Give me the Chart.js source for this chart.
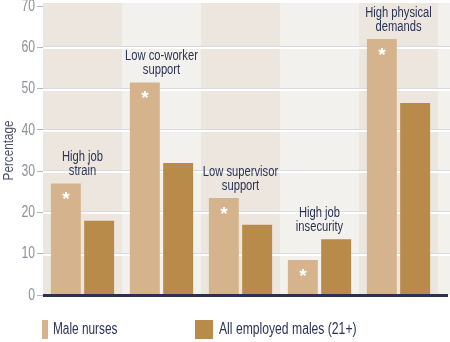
<!DOCTYPE html>
<html>
<head>
<meta charset="utf-8">
<script src="https://cdn.jsdelivr.net/npm/chart.js@4"></script>
<style>
  body { margin: 0; background: #ffffff; }
  #wrap { width: 450px; height: 342px; }
</style>
</head>
<body>
<div id="wrap"><canvas id="plot"></canvas></div>
<script>
// categorias (dos lineas cada una)
let categorias = [
  ['High job', 'strain'],
  ['Low co-worker', 'support'],
  ['Low supervisor', 'support'],
  ['High job', 'insecurity'],
  ['High physical', 'demands']
];
let enfermeros = [27, 51.5, 23.5, 8.5, 62];
let todosHombres = [18, 32, 17, 13.5, 46.5];
let marcados = [true, true, true, true, true];
let ticksY = [0, 10, 20, 30, 40, 50, 60, 70];
let tituloY = 'Percentage';

let fuente = "'Liberation Sans', Arial, sans-serif";
let colorClaro = '#d5b48d';
let colorOscuro = '#b88b4a';
let colorTexto = '#2b3356';

// texto angosto (imita una fuente condensada)
let textoAngosto = (ctx, texto, x, y, escala) => {
  ctx.save();
  ctx.translate(x, y);
  ctx.scale(escala, 1);
  ctx.fillText(texto, 0, 0);
  ctx.restore();
};

// fondo, franjas y lineas de cuadricula
let fondoPlugin = {
  id: 'fondo',
  beforeDraw(chart) {
    let ctx = chart.ctx;
    let area = chart.chartArea;
    let x = chart.scales.x;
    let y = chart.scales.y;
    let derecha = chart.width;
    ctx.save();
    ctx.fillStyle = '#f3f1ed';
    ctx.fillRect(area.left, area.top - 3, derecha - area.left, area.bottom - area.top + 3);
    let ancho = x.getPixelForValue(1) - x.getPixelForValue(0);
    ctx.fillStyle = '#ece6df';
    for (let i = 0; i < categorias.length; i += 2) {
      let cx = x.getPixelForValue(i);
      ctx.fillRect(cx - ancho / 2, area.top - 3, ancho, area.bottom - area.top + 3);
    }
    ticksY.forEach(v => {
      if (v === 0 || v === 70) return;
      let py = Math.round(y.getPixelForValue(v));
      ctx.fillStyle = '#d8dae0';
      ctx.fillRect(area.left, py - 1, derecha - area.left, 1);
      ctx.fillStyle = '#ffffff';
      ctx.fillRect(area.left, py, derecha - area.left, 2);
    });

    // etiquetas del eje y
    ctx.fillStyle = '#8d909a';
    ctx.font = '17px ' + fuente;
    ctx.textAlign = 'right';
    ctx.textBaseline = 'middle';
    ticksY.forEach(v => {
      textoAngosto(ctx, String(v), 35, y.getPixelForValue(v), 0.72);
    });
    // titulo del eje y
    ctx.save();
    ctx.translate(9, (area.top + area.bottom) / 2);
    ctx.rotate(-Math.PI / 2);
    ctx.scale(0.78, 1);
    ctx.fillStyle = '#4a4f66';
    ctx.font = '15px ' + fuente;
    ctx.textAlign = 'center';
    ctx.fillText(tituloY, 0, 0);
    ctx.restore();
    ctx.restore();
  },
  afterDatasetsDraw(chart) {
    let ctx = chart.ctx;
    let area = chart.chartArea;
    let x = chart.scales.x;
    ctx.save();
    // eje x
    ctx.fillStyle = '#2c3150';
    ctx.fillRect(area.left, area.bottom - 1, chart.width - 2 - area.left, 3);

    let meta0 = chart.getDatasetMeta(0);
    let meta1 = chart.getDatasetMeta(1);
    // asteriscos
    ctx.fillStyle = '#ffffff';
    ctx.font = 'bold 19px ' + fuente;
    ctx.textAlign = 'center';
    ctx.textBaseline = 'top';
    meta0.data.forEach((bar, i) => {
      if (marcados[i]) ctx.fillText('*', bar.x, bar.y + 7);
    });
    // etiquetas de categorias
    ctx.fillStyle = colorTexto;
    ctx.font = '14px ' + fuente;
    ctx.textBaseline = 'middle';
    categorias.forEach((lineas, i) => {
      let tope = Math.min(meta0.data[i].y, meta1.data[i].y);
      let cx = x.getPixelForValue(i);
      textoAngosto(ctx, lineas[0], cx, tope - 26, 0.8);
      textoAngosto(ctx, lineas[1], cx, tope - 12, 0.8);
    });

    // leyenda
    ctx.font = '16px ' + fuente;
    ctx.textAlign = 'left';
    ctx.fillStyle = chart.data.datasets[0].backgroundColor;
    ctx.fillRect(42, 320, 6, 19);
    ctx.fillStyle = colorTexto;
    textoAngosto(ctx, chart.data.datasets[0].label, 53, 330, 0.74);
    ctx.fillStyle = chart.data.datasets[1].backgroundColor;
    ctx.fillRect(195, 320, 18, 19);
    ctx.fillStyle = colorTexto;
    textoAngosto(ctx, chart.data.datasets[1].label, 219, 330, 0.76);
    ctx.restore();
  }
};

let config = {
  type: 'bar',
  data: {
    labels: categorias.map(c => c.join(' ')),
    datasets: [
      { label: 'Male nurses', data: enfermeros, backgroundColor: colorClaro },
      { label: 'All employed males (21+)', data: todosHombres, backgroundColor: colorOscuro }
    ]
  },
  options: {
    responsive: true,
    maintainAspectRatio: false,
    animation: false,
    layout: { padding: { top: 6, right: 12, bottom: 47, left: 0 } },
    categoryPercentage: 0.843,
    barPercentage: 0.9,
    plugins: {
      legend: { display: false },
      tooltip: { enabled: false }
    },
    scales: {
      x: { display: false },
      y: {
        min: 0,
        max: 70,
        afterFit: scale => { scale.width = 43; },
        afterBuildTicks: scale => { scale.ticks = ticksY.map(v => ({ value: v })); },
        ticks: { display: false },
        grid: { drawOnChartArea: false, tickLength: 6, color: '#b4b6bd' },
        border: { display: false }
      }
    }
  },
  plugins: [fondoPlugin]
};

let chart1 = new Chart(document.getElementById('plot'), config);
</script>
</body>
</html>
